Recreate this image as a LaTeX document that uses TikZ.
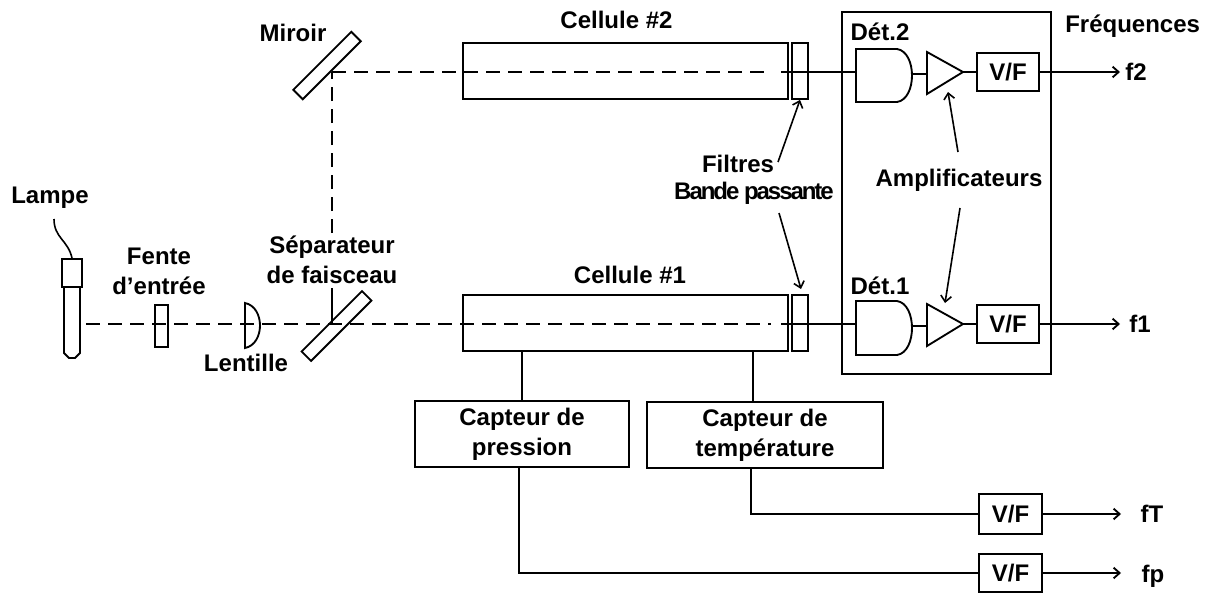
\documentclass[tikz,border=0pt]{standalone}
\usepackage{fontspec}
\setmainfont{Liberation Sans}
\usetikzlibrary{arrows.meta}

\tikzset{
  etiq/.style={font=\bfseries\fontsize{18}{22.5}\selectfont, inner sep=0pt, align=center},
  serre/.style={etiq, font=\bfseries\fontsize{18}{22.5}\selectfont\addfontfeature{LetterSpace=-8.5}},
  bloc/.style={draw, etiq, line width=1.4pt},
  cellule/.style={bloc, minimum width=243.75pt, minimum height=42pt},
  filtre/.style={bloc, minimum width=12pt, minimum height=42pt},
  vf/.style={bloc, minimum width=46.5pt, minimum height=28pt},
  capteur/.style={bloc, minimum height=50pt},
  lame/.style={bloc, minimum height=10pt, rotate=45},
  trait/.style={line width=1.4pt},
  faisceau/.style={trait, dash pattern=on 10.5pt off 6pt},
  sortie/.style={trait, -{Straight Barb[length=4.5pt, width=8pt]}},
  fleche/.style={line width=1.2pt, -{Straight Barb[length=4.5pt, width=8pt]}}
}

\begin{document}
\begin{tikzpicture}[x=0.75pt, y=-0.75pt]
  \useasboundingbox (0,0) rectangle (1212,592);

  % Lampe
  \node[etiq] (lampe) at (50,198) {Lampe};
  \node[bloc, minimum width=15pt, minimum height=21pt] (culot) at (72,273) {};
  \draw[trait] (64,287) -- (64,353) -- (69,358) -- (75,358) -- (80,353) -- (80,287);
  \coordinate (fil) at (54,219);
  \draw[line width=1.2pt] (fil) .. controls (54,238) and (68,240) .. (culot.north);

  % Fente, lentille
  \node[etiq] (fente) at (159,271) {Fente\\d'entrée};
  \node[bloc, minimum width=9.75pt, minimum height=31.5pt] (entree) at (161.5,326) {};
  \draw[trait] (245,303) .. controls (265,307) and (265,344) .. (245,348) -- cycle;
  \node[etiq] (lentille) at (246,363) {Lentille};

  % Lames
  \node[lame, minimum width=64pt] (separateur) at (336.5,326) {};
  \node[etiq] (sep) at (332,260) {Séparateur\\de faisceau};
  \node[lame, minimum width=61.5pt] (miroir) at (327,65.5) {};
  \node[etiq] (mir) at (293,33) {Miroir};

  % Cellules et filtres
  \node[cellule] (cellule2) at (625.5,71) {};
  \node[etiq] (nom2) at (616.5,20) {Cellule \#2};
  \node[filtre] (filtre2) at (800,71) {};
  \node[cellule] (cellule1) at (625.5,323) {};
  \node[etiq] (nom1) at (630,275) {Cellule \#1};
  \node[filtre] (filtre1) at (800,323) {};
  \node[etiq] (filtres) at (738,164) {Filtres};
  \node[serre] (bande) at (754,193) {Bande passante};

  % Boitier de detection
  \node[bloc, minimum width=156.75pt, minimum height=271.5pt] (boitier) at (946.5,193) {};
  \node[etiq, anchor=west] (freq) at (1065,26) {Fréquences};
  \node[etiq] (ampli) at (959,180) {Amplificateurs};

  % Detecteurs et amplis
  \foreach \n/\yh/\yb/\ym in {2/49/102/72, 1/301/355/324} {
    \draw[trait] (856,\yh) -- (897,\yh) .. controls (917,\yh+3) and (917,\yb-3) .. (897,\yb)
      -- (856,\yb) -- cycle;
    \coordinate (det\n e) at (856,\ym);
    \coordinate (det\n s) at (912,\ym+2);
    \draw[trait] (927,\ym-20) -- (963,\ym) -- (927,\ym+22) -- cycle;
    \coordinate (amp\n e) at (927,\ym+2);
    \coordinate (amp\n s) at (963,\ym);
    \node[vf] (vf\n) at (1008,\ym) {V/F};
    \coordinate (out\n) at (1120,\ym);
    \draw[trait] (det\n s) -- (amp\n e);
    \draw[trait] (amp\n s) -- (vf\n.west);
    \draw[sortie] (vf\n.east) -- (out\n);
  }
  \node[etiq] (det2) at (880,32) {Dét.2};
  \node[etiq] (det1) at (880,286) {Dét.1};
  \node[etiq] (f2) at (1136,72) {f2};
  \node[etiq] (f1) at (1140,324) {f1};

  % Capteurs
  \node[capteur, minimum width=160.5pt] (pression) at (522,434) {Capteur de\\pression};
  \node[capteur, minimum width=177pt] (temperature) at (765,435) {Capteur de\\température};
  \node[vf, minimum width=47pt, minimum height=30pt] (vfT) at (1010.5,514) {V/F};
  \node[vf, minimum width=47pt, minimum height=28pt] (vfP) at (1010.5,573) {V/F};
  \node[etiq] (fT) at (1152,514) {fT};
  \node[etiq] (fP) at (1153,576) {fp};
  \coordinate (sondeT) at (753,401);
  \coordinate (sortieT) at (751,469);
  \coordinate (sortieP) at (519,467);
  \coordinate (outT) at (1121,514);
  \coordinate (outP) at (1121,573);
  \draw[trait] (pression.north |- cellule1.south) -- (pression.north);
  \draw[trait] (sondeT |- cellule1.south) -- (sondeT);
  \draw[trait] (sortieT) |- (vfT.west);
  \draw[trait] (sortieP) |- (vfP.west);
  \draw[sortie] (vfT.east) -- (outT);
  \draw[sortie] (vfP.east) -- (outP);

  % Faisceaux
  \coordinate (depart) at (86,324);
  \coordinate (renvoi) at (332,324);
  \coordinate (sous) at (332,288);
  \coordinate (dessus) at (332,233);
  \coordinate (coude) at (332,72);
  \coordinate (fin1) at (771,324);
  \coordinate (fin2) at (771,72);
  \coordinate (reprise1) at (781,324);
  \coordinate (reprise2) at (781,72);
  \draw[faisceau] (depart) -- (fin1);
  \draw[trait] (renvoi) -- (sous);
  \draw[faisceau] (dessus) -- (coude);
  \draw[faisceau] (coude) -- (fin2);
  \draw[trait] (reprise1) -- (det1e);
  \draw[trait] (reprise2) -- (det2e);

  % Renvois
  \coordinate (a) at (778,162);
  \coordinate (b) at (779,213);
  \coordinate (c) at (958,152);
  \coordinate (d) at (960,208);
  \coordinate (cibleF) at (801,289);
  \coordinate (cibleA2) at (948,92);
  \coordinate (cibleA1) at (945,303);
  \draw[fleche] (a) -- (filtre2.south);
  \draw[fleche] (b) -- (cibleF);
  \draw[fleche] (c) -- (cibleA2);
  \draw[fleche] (d) -- (cibleA1);
\end{tikzpicture}
\end{document}
